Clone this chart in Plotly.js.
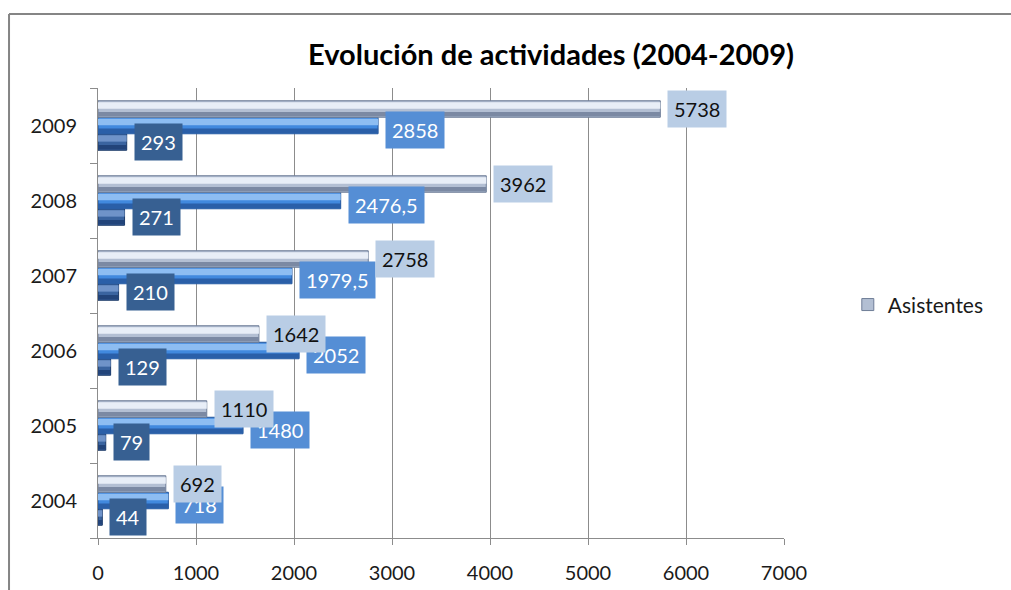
<!DOCTYPE html>
<html>
<head>
<meta charset="utf-8">
<script src="https://cdn.plot.ly/plotly-3.0.1.min.js"></script>
<style>html,body{margin:0;padding:0;background:#fff;}#chart{width:1011px;height:590px;}</style>
</head>
<body>
<div id="chart"></div>
<script>
const years = ['2004', '2005', '2006', '2007', '2008', '2009'];
const asistentes = [692, 1110, 1642, 2758, 3962, 5738];
const serieAzul = [718, 1480, 2052, 1979.5, 2476.5, 2858];
const serieOscura = [44, 79, 129, 210, 271, 293];
const xTicks = [0, 1000, 2000, 3000, 4000, 5000, 6000, 7000];

const FONT = 'Lato, "Open Sans", sans-serif';
const W = 0.22;

// style per series: bar offset (bottom edge), body / shade / highlight colours
const styles = [
  {vals: serieOscura, off: -0.33, body: '#3a64a0', shade: '#22447a', hi: '#6f93c9', line: '#1d3a66', name: 'Serie 3', legend: false},
  {vals: serieAzul, off: -0.11, body: '#4189de', shade: '#2a5fa8', hi: '#8dbdf2', line: '#23559a', name: 'Serie 2', legend: false},
  {vals: asistentes, off: 0.11, body: '#b3bfd3', shade: '#7b89a3', hi: '#e8eef7', line: '#6e7d97', name: 'Asistentes', legend: true}
];

const traces = [];
styles.forEach(s => {
  traces.push({type: 'bar', orientation: 'h', y: years, x: s.vals, name: s.name,
    showlegend: s.legend, offset: s.off, width: W,
    marker: {color: s.body, line: {color: s.line, width: 1}}, hoverinfo: 'x+name'});
  traces.push({type: 'bar', orientation: 'h', y: years, x: s.vals, showlegend: false,
    offset: s.off + 0.01, width: 0.06, marker: {color: s.shade, line: {width: 0}}, hoverinfo: 'skip'});
  traces.push({type: 'bar', orientation: 'h', y: years, x: s.vals, showlegend: false,
    offset: s.off + 0.115, width: 0.085, marker: {color: s.hi, line: {width: 0}}, hoverinfo: 'skip'});
});

const fmt = v => String(v).replace('.', ',');
const labelStyles = [
  {vals: serieOscura, yshift: -16.5, bg: '#376092', fc: '#ffffff'},
  {vals: serieAzul, yshift: -4.5, bg: '#558ed5', fc: '#ffffff'},
  {vals: asistentes, yshift: 17, bg: '#b9cde5', fc: '#111111'}
];
const annotations = [];
labelStyles.forEach(ls => {
  years.forEach((yr, i) => {
    annotations.push({x: ls.vals[i], y: i, xref: 'x', yref: 'y', text: fmt(ls.vals[i]),
      showarrow: false, xanchor: 'left', yanchor: 'middle', xshift: 7, yshift: ls.yshift,
      bgcolor: ls.bg, borderpad: 6, font: {family: FONT, size: 20, color: ls.fc}});
  });
});

const layout = {
  width: 1011, height: 590,
  margin: {l: 98, r: 227, t: 88, b: 52},
  paper_bgcolor: '#ffffff', plot_bgcolor: '#ffffff',
  barmode: 'overlay',
  title: {text: '<b>Evolución de actividades (2004-2009)</b>', xref: 'container', yref: 'container',
    x: 0.545, xanchor: 'center', y: 0.907, yanchor: 'middle',
    font: {family: FONT, size: 29, color: '#000000'}},
  xaxis: {range: [0, 7000], tickvals: xTicks, ticktext: xTicks.map(String),
    showgrid: true, gridcolor: '#8c8c8c', gridwidth: 1, zeroline: false,
    showline: true, linecolor: '#8c8c8c', linewidth: 1,
    ticks: 'outside', ticklen: 6, tickcolor: '#8c8c8c', ticklabelstandoff: 11,
    tickfont: {family: FONT, size: 20, color: '#1a1a1a'}, fixedrange: true},
  yaxis: {type: 'category', categoryorder: 'array', categoryarray: years, range: [-0.5, 5.5],
    showgrid: false, zeroline: false, showline: true, linecolor: '#8c8c8c', linewidth: 1,
    ticks: 'outside', tickson: 'boundaries', ticklen: 7, tickcolor: '#8c8c8c', ticklabelstandoff: 16,
    tickfont: {family: FONT, size: 20, color: '#1a1a1a'}, fixedrange: true},
  legend: {x: 1.093, xanchor: 'left', y: 0.518, yanchor: 'middle', bgcolor: 'rgba(0,0,0,0)',
    font: {family: FONT, size: 21, color: '#1a1a1a'}},
  annotations: annotations,
  shapes: [
    {type: 'line', xref: 'paper', yref: 'paper', x0: -0.1297, x1: 1.36, y0: 1.1644, y1: 1.1644,
      line: {color: '#858585', width: 2}},
    {type: 'line', xref: 'paper', yref: 'paper', x0: -0.1297, x1: -0.1297, y0: 1.1644, y1: -0.2,
      line: {color: '#858585', width: 2}}
  ],
  showlegend: true
};

Plotly.newPlot('chart', traces, layout, {displayModeBar: false, staticPlot: true});
</script>
</body>
</html>
